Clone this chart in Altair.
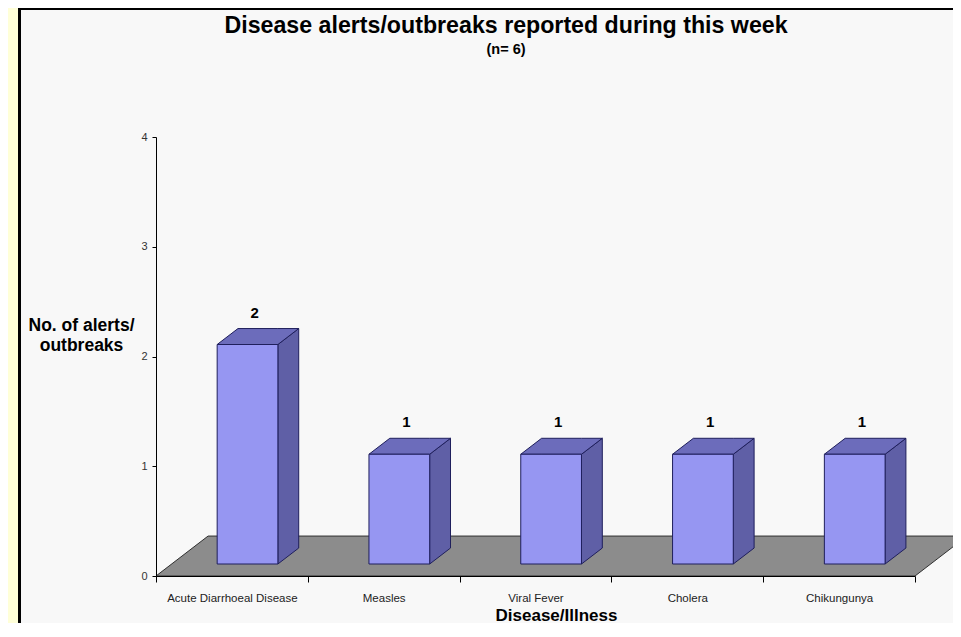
import altair as alt
import pandas as pd

# ---- data ----
categories = ["Acute Diarrhoeal Disease", "Measles", "Viral Fever", "Cholera", "Chikungunya"]
values = [2, 1, 1, 1, 1]
y_ticks = [0, 1, 2, 3, 4]
title_text = "Disease alerts/outbreaks reported during this week"
subtitle_text = "(n= 6)"
x_title = "Disease/Illness"
y_title = ["No. of alerts/", "outbreaks"]

# ---- 3D styling constants (in scale units) ----
N = len(categories)
BAR_W = 0.4      # fraction of a category band
DX = 0.343       # horizontal shift for the full floor depth (category units)
DY = 0.364       # vertical shift for the full floor depth (value units)
D0, D1 = 0.3, 0.7  # bar depth range within the floor

FONT = "Liberation Sans"
FRONT = "#9696f2"
SIDE = "#5f5fa6"
TOP = "#6c6cbb"
OUTLINE = "#1f1f5c"
FLOOR = "#8c8c8c"

front_rows, side_rows, top_rows, label_rows = [], [], [], []
for i, (c, v) in enumerate(zip(categories, values)):
    c0 = i + 0.5
    xl0, xr0 = c0 - BAR_W / 2 + D0 * DX, c0 + BAR_W / 2 + D0 * DX
    xl1, xr1 = c0 - BAR_W / 2 + D1 * DX, c0 + BAR_W / 2 + D1 * DX
    b0, b1 = D0 * DY, D1 * DY
    t0, t1 = v + b0, v + b1
    front_rows.append(dict(cat=c, x=xl0, x2=xr0, y=b0, y2=t0))
    side_rows += [dict(cat=c, x=xr0, y=b0, y2=t0), dict(cat=c, x=xr1, y=b1, y2=t1)]
    top_rows += [
        dict(cat=c, x=xl0, y=t0, y2=t0),
        dict(cat=c, x=xl1, y=t0, y2=t1),
        dict(cat=c, x=xr0, y=t0, y2=t1),
        dict(cat=c, x=xr1, y=t1, y2=t1),
    ]
    label_rows.append(dict(cat=c, x=c0 + 0.15, y=v, label=str(v)))

floor_rows = [
    dict(g="floor", x=0, y=0, y2=0),
    dict(g="floor", x=DX, y=0, y2=DY),
    dict(g="floor", x=N, y=0, y2=DY),
    dict(g="floor", x=N + DX, y=DY, y2=DY),
]

yscale = alt.Scale(domain=[0, 4], nice=False, zero=True)
y_axis = alt.Axis(
    values=y_ticks, format="d", grid=False, tickSize=4, labelPadding=5,
    labelFontSize=11, labelColor="#333333", domainColor="black", tickColor="black",
    title=y_title, titleAngle=0, titleAlign="center", titleBaseline="top",
    titleX=-75, titleY=179, titleFontSize=17.5, titleFontWeight="bold",
    titleLineHeight=20, titleColor="black", zindex=1,
)
x_axis = alt.Axis(
    title=x_title, tickBand="extent", labelAngle=0, tickSize=6, labelPadding=10,
    labelFontSize=11.5, labelColor="#222222", domainColor="black", tickColor="black",
    titleFontSize=17, titleFontWeight="bold", titleColor="black",
    titleX=400, titleY=31, titleBaseline="top", titleAlign="center",
    grid=False, zindex=1,
)

Y = alt.Y("y:Q", scale=yscale, axis=y_axis)
XQ = alt.X("x:Q", scale=alt.Scale(domain=[0, N], nice=False, zero=False), axis=None)

axis_layer = alt.Chart(pd.DataFrame({"cat": categories, "value": values})).mark_bar(opacity=0).encode(
    x=alt.X("cat:N", sort=categories,
            scale=alt.Scale(type="band", paddingInner=0, paddingOuter=0), axis=x_axis),
    y=alt.Y("value:Q", scale=yscale, axis=y_axis),
)

floor = alt.Chart(pd.DataFrame(floor_rows)).mark_area(
    orient="vertical", fill=FLOOR, stroke="#303030", strokeWidth=1, interpolate="linear"
).encode(x=XQ, y=Y, y2="y2:Q")

side = alt.Chart(pd.DataFrame(side_rows)).mark_area(
    orient="vertical", fill=SIDE, stroke=OUTLINE, strokeWidth=1, interpolate="linear"
).encode(x=XQ, y=Y, y2="y2:Q", detail="cat:N")

top = alt.Chart(pd.DataFrame(top_rows)).mark_area(
    orient="vertical", fill=TOP, stroke=OUTLINE, strokeWidth=1, interpolate="linear"
).encode(x=XQ, y=Y, y2="y2:Q", detail="cat:N")

front = alt.Chart(pd.DataFrame(front_rows)).mark_rect(
    fill=FRONT, stroke=OUTLINE, strokeWidth=1
).encode(x=XQ, x2="x2:Q", y=Y, y2="y2:Q")

labels = alt.Chart(pd.DataFrame(label_rows)).mark_text(
    fontSize=15, fontWeight="bold", color="black", baseline="middle", dy=-44
).encode(x=XQ, y=Y, text="label:N")

inner = alt.layer(floor, side, top, front, labels)

# decorative frame (cream stripe and black border lines)
one = pd.DataFrame({"k": [0]})
cream = alt.Chart(one).mark_rect(color="#ffffd8").encode(
    x=alt.value(-148), x2=alt.value(-138), y=alt.value(-129), y2=alt.value(486))
black_left = alt.Chart(one).mark_rect(color="black").encode(
    x=alt.value(-138), x2=alt.value(-135), y=alt.value(-129), y2=alt.value(486))
black_top = alt.Chart(one).mark_rect(color="black").encode(
    x=alt.value(-138), x2=alt.value(797), y=alt.value(-129), y2=alt.value(-127))

chart = alt.layer(cream, black_left, black_top, axis_layer, inner).resolve_scale(
    x="independent"
).properties(
    width=759, height=439,
    autosize=alt.AutoSizeParams(type="none"),
    padding={"left": 148, "top": 129, "right": 38, "bottom": 47},
    background="#f8f8f8",
    title=alt.TitleParams(
        text=title_text, subtitle=subtitle_text, anchor="middle", dx=-29.5,
        fontSize=23.2, fontWeight="bold", color="black",
        subtitleFontSize=14.5, subtitleFontWeight="bold", subtitleColor="black",
        offset=-49.5, subtitlePadding=5, font=FONT, subtitleFont=FONT,
    ),
).configure(font=FONT).configure_view(stroke=None)

chart.save("out.html", embed_options={"renderer": "svg", "actions": False})
